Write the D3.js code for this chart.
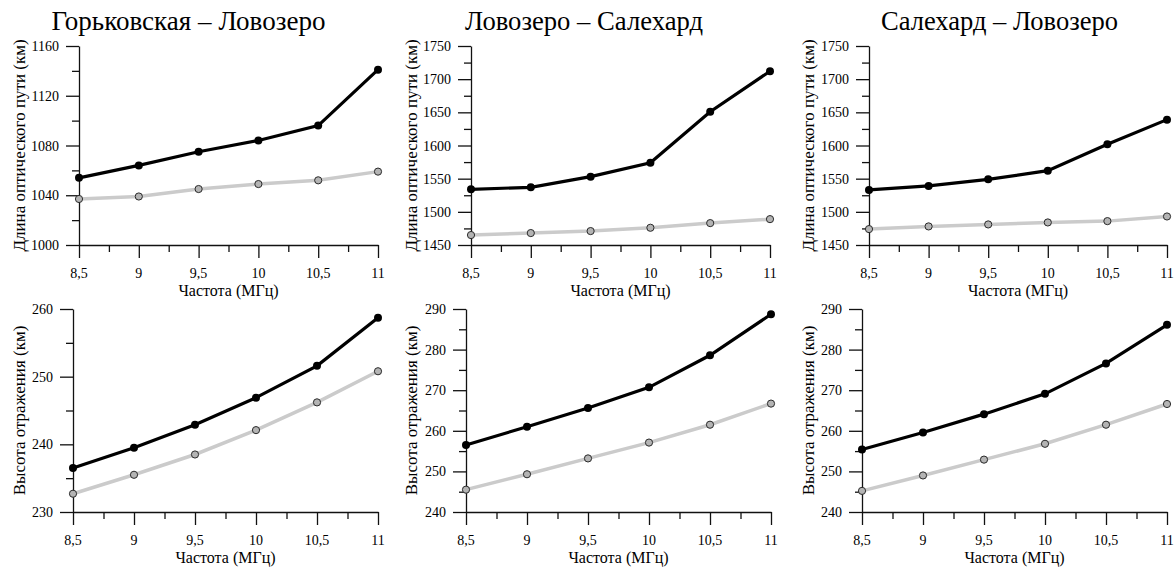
<!DOCTYPE html>
<html><head><meta charset="utf-8" /><script src="https://cdn.jsdelivr.net/npm/d3@7/dist/d3.min.js"></script></head>
<body style="margin:0">
<script>
// --- data ---
var freq = [8.5, 9, 9.5, 10, 10.5, 11];
var titles = ["Горьковская – Ловозеро", "Ловозеро – Салехард", "Салехард – Ловозеро"];

// optical path length, km (top row)
var pathBlack1 = [1054, 1064, 1075, 1084, 1096, 1141];
var pathGray1  = [1037, 1039, 1045, 1049, 1052, 1059];
var pathBlack2 = [1534, 1537, 1553, 1574, 1651, 1712];
var pathGray2  = [1465, 1468, 1471, 1476, 1483, 1489];
var pathBlack3 = [1533, 1539, 1549, 1562, 1602, 1639];
var pathGray3  = [1474, 1478, 1481, 1484, 1486, 1493];

// reflection height, km (bottom row)
var hBlack1 = [236.5, 239.5, 242.9, 246.9, 251.6, 258.7];
var hGray1  = [232.7, 235.5, 238.5, 242.1, 246.2, 250.8];
var hBlack2 = [256.5, 261.0, 265.6, 270.7, 278.6, 288.7];
var hGray2  = [245.5, 249.3, 253.2, 257.1, 261.5, 266.7];
var hBlack3 = [255.4, 259.6, 264.1, 269.1, 276.6, 286.1];
var hGray3  = [245.2, 249.0, 252.9, 256.8, 261.5, 266.6];

var pathDomains = [[1000, 1160], [1450, 1750], [1450, 1750]];
var pathMajor = [[1000, 1040, 1080, 1120, 1160],
                 [1450, 1500, 1550, 1600, 1650, 1700, 1750],
                 [1450, 1500, 1550, 1600, 1650, 1700, 1750]];
var hDomains = [[230, 260], [240, 290], [240, 290]];
var hMajor = [[230, 240, 250, 260],
              [240, 250, 260, 270, 280, 290],
              [240, 250, 260, 270, 280, 290]];

var xLabel = "Частота (МГц)";
var yLabelTop = "Длина оптического пути (км)";
var yLabelBottom = "Высота отражения (км)";

// --- layout ---
var W = 1175, H = 567;
var svg = d3.select("body").append("svg").attr("width", W).attr("height", H);

var topRow = {y0: 46, y1: 245, xr: [[79, 378], [471, 770], [869, 1167]], labX: [19, 411, 808]};
var botRow = {y0: 309, y1: 512, xr: [[73, 378], [466, 771], [862, 1167]], labX: [19, 411, 808]};
var titleX = [51.5, 465, 881];
var titleW = [274, 238, 237];

var fmt = function(d) { return String(d).replace(".", ","); };

function midpoints(a) {
  var out = [];
  for (var i = 0; i < a.length - 1; i++) out.push((a[i] + a[i + 1]) / 2);
  return out;
}

// plain serif text, same way as the font test that worked
function label(parent, txt, size) {
  return parent.append("text")
    .style("font-family", "'Times New Roman'")
    .attr("font-size", size)
    .text(txt);
}

function panel(row, i, domain, major, black, gray, ylab) {
  var g = svg.append("g");
  var x = d3.scaleLinear().domain([8.5, 11]).range(row.xr[i]);
  var y = d3.scaleLinear().domain(domain).range([row.y1, row.y0]);

  // minor ticks
  g.append("g").attr("transform", "translate(0," + row.y1 + ")")
    .call(d3.axisBottom(x).tickValues(midpoints(freq)).tickSize(7).tickFormat(""))
    .call(function(s) { s.select(".domain").remove(); s.selectAll("text").remove(); });
  g.append("g").attr("transform", "translate(" + row.xr[i][0] + ",0)")
    .call(d3.axisLeft(y).tickValues(midpoints(major)).tickSize(7).tickFormat(""))
    .call(function(s) { s.select(".domain").remove(); s.selectAll("text").remove(); });

  // major ticks, labels drawn separately
  g.append("g").attr("transform", "translate(0," + row.y1 + ")")
    .call(d3.axisBottom(x).tickValues(freq).tickSize(13).tickSizeOuter(0).tickFormat(""))
    .call(function(s) { s.selectAll("text").remove(); });
  g.append("g").attr("transform", "translate(" + row.xr[i][0] + ",0)")
    .call(d3.axisLeft(y).tickValues(major).tickSize(13).tickSizeOuter(0).tickFormat(""))
    .call(function(s) { s.selectAll("text").remove(); });

  g.selectAll(".domain, .tick line").attr("stroke", "#111").attr("stroke-width", 1.3);

  freq.forEach(function(f) {
    label(g, fmt(f), 14).attr("x", x(f)).attr("y", row.y1 + 33).attr("text-anchor", "middle");
  });
  major.forEach(function(v) {
    label(g, fmt(v), 14).attr("x", row.xr[i][0] - 20).attr("y", y(v) + 5).attr("text-anchor", "end");
  });

  var line = d3.line().x(function(d, k) { return x(freq[k]); }).y(function(d) { return y(d); });

  g.append("path").datum(gray).attr("d", line)
    .attr("fill", "none").attr("stroke", "#cbcbcb").attr("stroke-width", 3.5);
  g.selectAll(".pg").data(gray).enter().append("circle")
    .attr("cx", function(d, k) { return x(freq[k]); })
    .attr("cy", function(d) { return y(d); })
    .attr("r", 3.6).attr("fill", "#b4b4b4").attr("stroke", "#2a2a2a").attr("stroke-width", 1);

  g.append("path").datum(black).attr("d", line)
    .attr("fill", "none").attr("stroke", "#000").attr("stroke-width", 3.2);
  g.selectAll(".pb").data(black).enter().append("circle")
    .attr("cx", function(d, k) { return x(freq[k]); })
    .attr("cy", function(d) { return y(d); })
    .attr("r", 4).attr("fill", "#000");

  // axis titles
  label(g, xLabel, 16)
    .attr("x", (row.xr[i][0] + row.xr[i][1]) / 2)
    .attr("y", row.y1 + 51)
    .attr("text-anchor", "middle");
  label(g, ylab, 17)
    .attr("transform", "translate(" + (row.labX[i] + 6) + "," + ((row.y0 + row.y1) / 2) + ") rotate(-90)")
    .attr("text-anchor", "middle");
}

var pathB = [pathBlack1, pathBlack2, pathBlack3];
var pathG = [pathGray1, pathGray2, pathGray3];
var hB = [hBlack1, hBlack2, hBlack3];
var hG = [hGray1, hGray2, hGray3];

for (var i = 0; i < 3; i++) {
  panel(topRow, i, pathDomains[i], pathMajor[i], pathB[i], pathG[i], yLabelTop);
  panel(botRow, i, hDomains[i], hMajor[i], hB[i], hG[i], yLabelBottom);
  label(svg, titles[i], 27).attr("x", titleX[i]).attr("y", 29.5)
    .attr("textLength", titleW[i]).attr("lengthAdjust", "spacingAndGlyphs");
}
</script>
</body>
</html>
